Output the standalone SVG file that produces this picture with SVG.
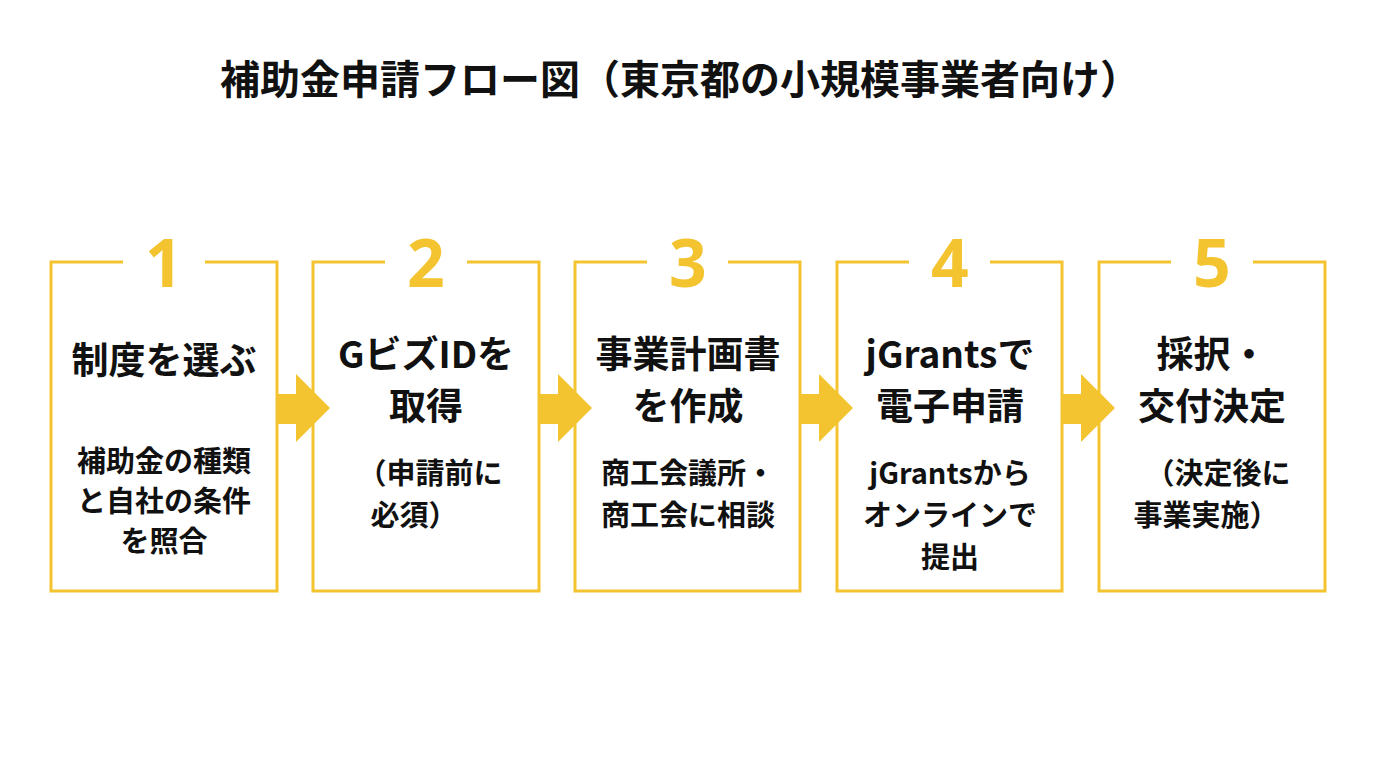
<svg xmlns="http://www.w3.org/2000/svg" width="1376" height="768" viewBox="0 0 1376 768">
<style>
.b{fill:none;stroke:#F4C430;stroke-width:3}
.n{font-family:"Noto Sans","Noto Sans CJK JP",sans-serif;font-weight:700;font-size:66px;fill:#F4C430;text-anchor:middle}
.t{font-family:"Noto Sans CJK JP",sans-serif;font-weight:700;font-size:37px;fill:#111;text-anchor:middle}
.s{font-family:"Noto Sans CJK JP",sans-serif;font-weight:700;font-size:29px;fill:#111;text-anchor:middle}
.h{font-family:"Noto Sans CJK JP",sans-serif;font-weight:700;font-size:40px;fill:#111;text-anchor:middle}
.a{fill:#F4C430}
</style>
<rect width="1376" height="768" fill="#fff"/>
<text class="h" x="680" y="94">補助金申請フロー図（東京都の小規模事業者向け）</text>
<g id="connectors">
<path class="a" d="M277,394H296V374L330,408L296,442V424H277Z"/>
<path class="a" d="M539,394H558V374L592,408L558,442V424H539Z"/>
<path class="a" d="M800,394H819V374L853,408L819,442V424H800Z"/>
<path class="a" d="M1062,394H1081V374L1115,408L1081,442V424H1062Z"/>
</g>
<g id="step1">
<path class="b" d="M123,262H51V591H277V262H205"/>
<text class="n" x="164" y="287">1</text>
<text class="t" x="164" y="374">制度を選ぶ</text>
<text class="s" x="164" y="472">補助金の種類</text>
<text class="s" x="164" y="512">と自社の条件</text>
<text class="s" x="164" y="552">を照合</text>
</g>
<g id="step2">
<path class="b" d="M385,262H313V591H539V262H467"/>
<text class="n" x="426" y="287">2</text>
<text class="t" x="426" y="368">GビズIDを</text>
<text class="t" x="426" y="420">取得</text>
<text class="s" x="430" y="484">（申請前に</text>
<text class="s" x="414" y="526">必須）</text>
</g>
<g id="step3">
<path class="b" d="M647,262H575V591H800V262H728"/>
<text class="n" x="688" y="287">3</text>
<text class="t" x="688" y="368">事業計画書</text>
<text class="t" x="688" y="420">を作成</text>
<text class="s" x="688" y="484">商工会議所・</text>
<text class="s" x="688" y="526">商工会に相談</text>
</g>
<g id="step4">
<path class="b" d="M909,262H837V591H1062V262H990"/>
<text class="n" x="950" y="287">4</text>
<text class="t" x="950" y="368">jGrantsで</text>
<text class="t" x="950" y="420">電子申請</text>
<text class="s" x="950" y="484">jGrantsから</text>
<text class="s" x="950" y="526">オンラインで</text>
<text class="s" x="950" y="568">提出</text>
</g>
<g id="step5">
<path class="b" d="M1171,262H1099V591H1325V262H1253"/>
<text class="n" x="1212" y="287">5</text>
<text class="t" x="1212" y="368">採択・</text>
<text class="t" x="1212" y="420">交付決定</text>
<text class="s" x="1218" y="484">（決定後に</text>
<text class="s" x="1206" y="526">事業実施）</text>
</g>
</svg>
